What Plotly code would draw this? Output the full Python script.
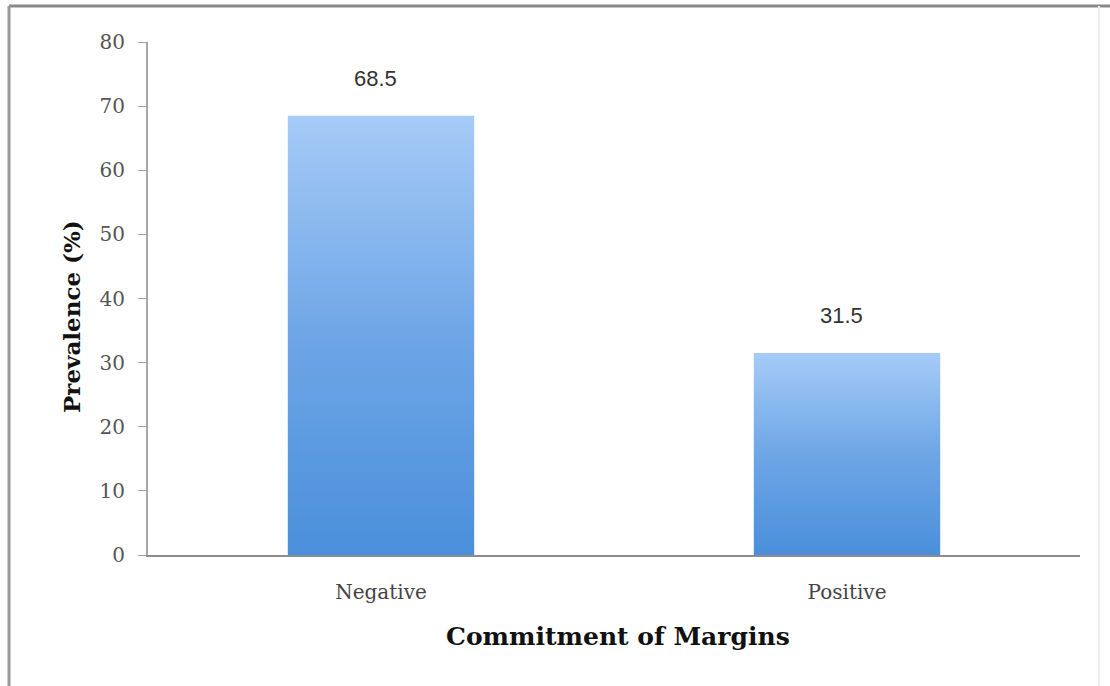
import plotly.graph_objects as go

categories = ["Negative", "Positive"]
values = [68.5, 31.5]
value_labels = ["68.5", "31.5"]
y_ticks = [0, 10, 20, 30, 40, 50, 60, 70, 80]
x_title = "Commitment of Margins"
y_title = "Prevalence (%)"

BAR_W = 0.4
PLOT_W, PLOT_H = 932, 513  # plot area in px (for paper-coordinate conversions)
L, T, B = 148, 42, 131

fig = go.Figure()

for i, (cat, v) in enumerate(zip(categories, values)):
    x0, x1 = i - BAR_W / 2, i + BAR_W / 2
    fig.add_trace(go.Scatter(
        x=[x0, x1, x1, x0, x0],
        y=[0, 0, v, v, 0],
        mode="lines",
        fill="toself",
        line=dict(width=0, color="rgba(0,0,0,0)"),
        fillgradient=dict(
            type="vertical",
            colorscale=[[0, "#4a8fdb"], [0.5, "#6ea6e6"], [1, "#a6cbf7"]],
        ),
        hoverinfo="skip",
        showlegend=False,
        name=cat,
    ))
    fig.add_annotation(
        x=i, y=v, text=value_labels[i], showarrow=False,
        yanchor="bottom", yshift=23, xshift=-6,
        font=dict(family="Liberation Sans, Arial", size=22, color="#333333"),
    )

def px_x(p):
    return (p - L) / PLOT_W

def px_y(p):
    return (T + PLOT_H - p) / PLOT_H

fig.add_annotation(
    xref="paper", yref="paper", x=px_x(618), y=px_y(636),
    text="<b>" + x_title + "</b>", showarrow=False,
    xanchor="center", yanchor="middle",
    font=dict(family="DejaVu Serif", size=25, color="#111111"),
)
fig.add_annotation(
    xref="paper", yref="paper", x=px_x(71), y=px_y(317),
    text="<b>" + y_title + "</b>", showarrow=False, textangle=-90,
    xanchor="center", yanchor="middle",
    font=dict(family="DejaVu Serif", size=23, color="#111111"),
)

fig.update_layout(
    width=1110, height=686,
    margin=dict(l=L, r=30, t=T, b=B),
    paper_bgcolor="white", plot_bgcolor="white",
    showlegend=False,
    xaxis=dict(
        range=[-0.5, 1.5],
        tickmode="array", tickvals=list(range(len(categories))), ticktext=categories,
        showgrid=False, zeroline=False,
        showline=True, linecolor="#8c8c8c", linewidth=2,
        ticks="", ticklabelstandoff=18,
        tickfont=dict(family="DejaVu Serif", size=20, color="#444444"),
    ),
    yaxis=dict(
        range=[0, 80],
        tickmode="array", tickvals=y_ticks,
        showgrid=False, zeroline=False,
        showline=True, linecolor="#a8a8a8", linewidth=2,
        ticks="outside", ticklen=8, tickcolor="#a0a0a0", tickwidth=1,
        ticklabelstandoff=9,
        tickfont=dict(family="DejaVu Serif", size=20, color="#555555"),
    ),
    shapes=[
        dict(type="line", xref="paper", yref="paper",
             x0=px_x(9), x1=px_x(1110), y0=px_y(6), y1=px_y(6),
             line=dict(color="#8a8a8a", width=3)),
        dict(type="line", xref="paper", yref="paper",
             x0=px_x(9), x1=px_x(9), y0=px_y(6), y1=px_y(690),
             line=dict(color="#9a9a9a", width=3)),
        dict(type="line", xref="paper", yref="paper",
             x0=px_x(1099), x1=px_x(1099), y0=px_y(6), y1=px_y(690),
             line=dict(color="#eeeeee", width=2)),
    ],
)

fig.write_html("out.html")
